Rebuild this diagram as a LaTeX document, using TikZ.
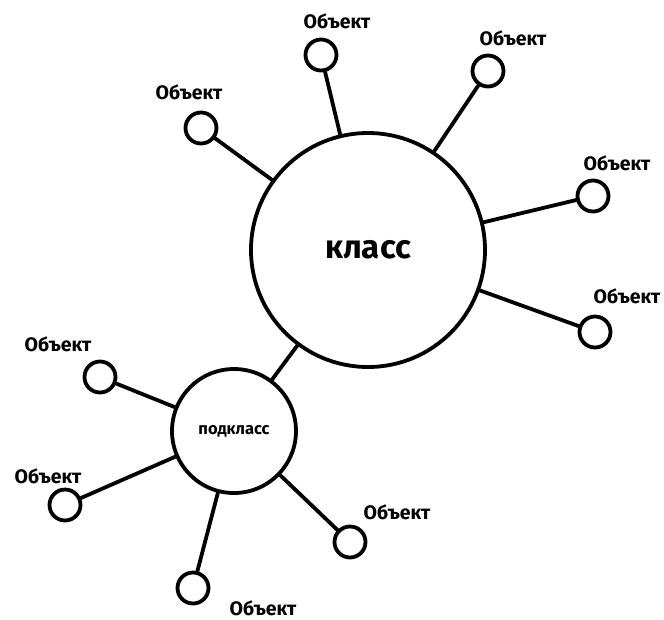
\documentclass[tikz,border=0pt]{standalone}
\usepackage{fontspec}
\setmainfont{Fira Sans}
\begin{document}
\begin{tikzpicture}[x=1pt,y=-1pt,
  ring/.style={circle,draw,line width=3.8pt,inner sep=0pt,outer sep=0pt,fill=white},
  obj/.style={ring,minimum size=31pt},
  lbl/.style={font=\bfseries\fontsize{19.5}{19.5}\selectfont,inner sep=0pt},
  link/.style={line width=3.8pt}]
\useasboundingbox (0,0) rectangle (664,619);
\fill[white] (0,0) rectangle (664,619);
% main circles
\node[ring,minimum size=234pt,font=\bfseries\fontsize{33}{33}\selectfont] (cls) at (368,250) {класс};
\node[ring,minimum size=124pt,font=\bfseries\fontsize{16.5}{16.5}\selectfont] (sub) at (234,431) {подкласс};
% objects of class
\node[obj] (o1) at (201,128) {};
\node[obj] (o2) at (321,55) {};
\node[obj] (o3) at (488,71) {};
\node[obj] (o4) at (593,196) {};
\node[obj] (o5) at (595,332) {};
% objects of subclass
\node[obj] (s1) at (100,377) {};
\node[obj] (s2) at (65,505) {};
\node[obj] (s3) at (350,542) {};
\node[obj] (s4) at (193,588) {};
% labels
\node[lbl] (l1) at (189,92) {Объект};
\node[lbl] (l2) at (337,21) {Объект};
\node[lbl] (l3) at (513,38) {Объект};
\node[lbl] (l4) at (617,163) {Объект};
\node[lbl] (l5) at (627,296) {Объект};
\node[lbl] (m1) at (58,344) {Объект};
\node[lbl] (m2) at (48,476) {Объект};
\node[lbl] (m3) at (397,512) {Объект};
\node[lbl] (m4) at (263,608) {Объект};
% links
\foreach \o in {o1,o2,o3,o4,o5} \draw[link] (cls) -- (\o);
\foreach \o in {s1,s2,s3,s4} \draw[link] (sub) -- (\o);
\draw[link] (cls) -- (sub);
\end{tikzpicture}
\end{document}
